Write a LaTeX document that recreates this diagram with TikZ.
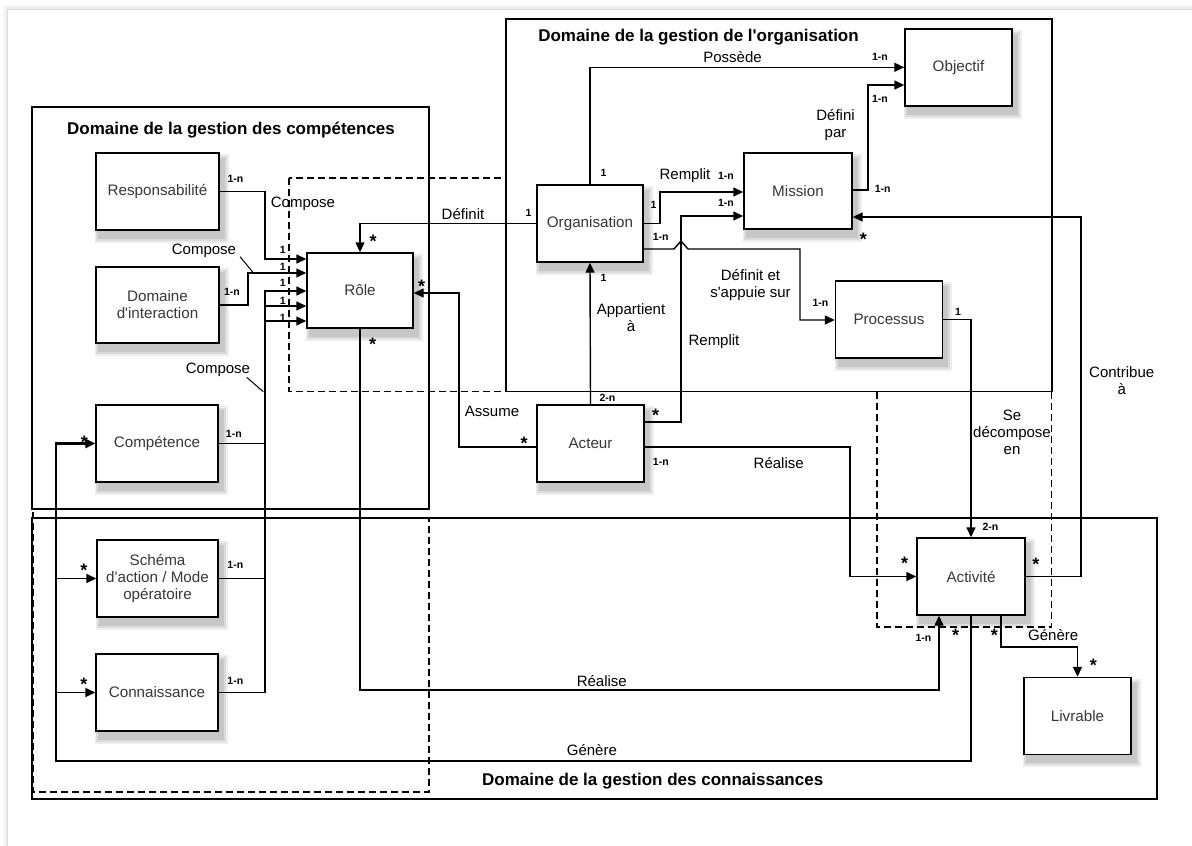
\documentclass[tikz,border=0pt]{standalone}
\usepackage{fontspec}
\setmainfont{Liberation Sans}[Ligatures=TeXOff]
\usetikzlibrary{arrows.meta, backgrounds}

\begin{document}
\begin{tikzpicture}[x=1pt, y=-1pt, line width=1.4pt,
        main/.style = {draw, line width=1.4pt, fill=white, text=black!78, align=center,
            font=\fontsize{15.2}{17}\selectfont, minimum width=107pt, minimum height=77pt, inner sep=2pt},
        rel/.style = {-{Triangle[length=10pt, width=9pt]}},
        lbl/.style = {font=\fontsize{15}{17}\selectfont, align=center, inner sep=0pt},
        card/.style = {font=\bfseries\fontsize{10.5}{12}\selectfont, inner sep=0pt},
        star/.style = {font=\bfseries\fontsize{18}{18}\selectfont, inner sep=0pt, yshift=-4pt},
        title/.style = {font=\bfseries\fontsize{17}{18}\selectfont, inner sep=0pt},
        zone/.style = {dash pattern=on 7pt off 4pt}]
        \useasboundingbox (0,0) rectangle (1192,846);
        \draw[black!6, line width=3pt] (5.5,846) -- (5.5,7.5) -- (1192,7.5);
        \draw[black!14, line width=1pt] (7.5,846) -- (7.5,9.5) -- (1192,9.5);

        % domaines
        \draw (32,107) rectangle (429,509);
        \draw (506,19) rectangle (1052,391.5);
        \draw (32,518) rectangle (1157,799);
        \draw[zone] (289,178) rectangle (506,391.5);
        \draw[zone] (877,391.5) rectangle (1051.5,627);
        \draw[zone] (33,512) -- (33,792) -- (429,792) -- (429,518);
        \node[title] (tcomp) at (231,130) {Domaine de la gestion des compétences};
        \node[title] (torga) at (698.5,37) {Domaine de la gestion de l'organisation};
        \node[title] (tconn) at (652.7,781) {Domaine de la gestion des connaissances};

        % classes
        \node[main, minimum width=123pt] (resp) at (157.5,191.5) {Responsabilité};
        \node[main, minimum width=123pt, minimum height=76pt] (inter) at (157.5,305) {Domaine\\d'interaction};
        \node[main, minimum width=122pt] (comp) at (157,443.5) {Compétence};
        \node[main, minimum width=121pt] (schema) at (157.5,578.5) {Schéma\\d'action / Mode\\opératoire};
        \node[main, minimum width=122pt] (conn) at (157,692.5) {Connaissance};
        \node[main, minimum width=106pt, minimum height=75pt] (role) at (360,290.5) {Rôle};
        \node[main, minimum width=106pt] (orga) at (590,223.5) {Organisation};
        \node[main, minimum width=108pt, minimum height=76pt] (mission) at (798,191) {Mission};
        \node[main] (objectif) at (958.5,67.3) {Objectif};
        \node[main] (processus) at (889,319.5) {Processus};
        \node[main] (acteur) at (590.5,443.5) {Acteur};
        \node[main, minimum width=108pt] (activite) at (971,576.5) {Activité};
        \node[main] (livrable) at (1077.5,716) {Livrable};

        % ombres
        \begin{scope}[on background layer]
            \foreach \b in {resp, inter, comp, schema, conn, role, orga, mission, objectif, processus, acteur, activite, livrable} {
                \fill[black!7] ([shift={(0pt,-12pt)}]\b.south west) rectangle ([shift={(9pt,-2pt)}]\b.north east);
                \fill[black!14] ([shift={(1pt,-10pt)}]\b.south west) rectangle ([shift={(7pt,-4pt)}]\b.north east);
                \fill[black!22] ([shift={(3pt,-8pt)}]\b.south west) rectangle ([shift={(5pt,-6pt)}]\b.north east);
            }
        \end{scope}

        % relations
        \draw[rel] (resp.east) -| (265,259) -- (role.west |- 0,259);
        \draw[rel] (inter.east) -| (248,273) -- (role.west |- 0,273);
        \draw[rel] (comp.east) -| (265,291) -- (role.west |- 0,291);
        \draw[rel] (schema.east) -| (265,306) -- (role.west |- 0,306);
        \draw[rel] (conn.east) -| (265,321) -- (role.west |- 0,321);
        \draw[rel] (orga.west) -| (role.north);
        \draw[rel] (role.south) |- (939,690) -- (939,0 |- activite.south);
        \draw[rel] (acteur.west |- 0,447) -| (459,293) -- (role.east |- 0,293);
        \draw[rel] (acteur.north) -- (orga.south);
        \draw[rel] (acteur.east |- 0,422) -| (681,216) -- (mission.west |- 0,216);
        \draw[rel] (orga.east) -| (660,192) -- (mission.west |- 0,192);
        \draw[rel] (orga.east |- 0,249) -- (674,249) -- (681,241) -- (688,249) -| (800,320) -- (processus.west |- 0,320);
        \draw[rel] (orga.north) |- (objectif.west);
        \draw[rel] (mission.east |- 0,190) -| (868,85) -- (objectif.west |- 0,85);
        \draw[rel] (activite.east) -| (1081,217) -- (mission.east |- 0,217);
        \draw[rel] (processus.east) -| (activite.north);
        \draw[rel] (acteur.east |- 0,447) -| (850,576.5) -- (activite.west);
        \draw[rel] (activite.south -| 1001,0) |- (1077.5,647) -- (livrable.north);
        \draw[rel, line width=2.6pt] (activite.south) |- (56,761) |- (comp.west);
        \draw[rel] (56,578.5) -- (schema.west);
        \draw[rel] (56,692.5) -- (conn.west);

        % libelles
        \node[lbl] (compose1) at (303,204) {Compose};
        \node[lbl] (compose2) at (204,250.7) {Compose};
        \node[lbl] (compose3) at (218,370) {Compose};
        \draw[line width=1pt] (240,256.7) -- (253.3,272.7);
        \draw[line width=1pt] (246.7,377.3) -- (263.3,391.7);
        \node[lbl] (definit) at (463,214) {Définit};
        \node[lbl] (realise1) at (601.8,681) {Réalise};
        \node[lbl] (assume) at (492,411.7) {Assume};
        \node[lbl] (appartient) at (631,318) {Appartient\\à};
        \node[lbl] (remplit1) at (714,341.7) {Remplit};
        \node[lbl] (remplit2) at (685,175.7) {Remplit};
        \node[lbl] (appuie) at (750.5,285) {Définit et\\s'appuie sur};
        \node[lbl] (possede) at (732.5,56.7) {Possède};
        \node[lbl] (defini) at (835.5,125) {Défini\\par};
        \node[lbl] (contribue) at (1121.7,381) {Contribue\\à};
        \node[lbl] (decompose) at (1012,432.7) {Se\\décompose\\en};
        \node[lbl] (realise2) at (778.7,462.7) {Réalise};
        \node[lbl] (genere1) at (1053.2,635) {Génère};
        \node[lbl] (genere2) at (591.9,750) {Génère};

        % cardinalites
        \node[card] (c1) at (235.5,179.3) {1-n};
        \node[card] (c2) at (282.7,250) {1};
        \node[card] (c3) at (282.7,266.7) {1};
        \node[card] (c4) at (282.7,283.3) {1};
        \node[card] (c5) at (282.7,300.7) {1};
        \node[card] (c6) at (282.7,317.7) {1};
        \node[card] (c7) at (232,291.7) {1-n};
        \node[card] (c8) at (233.8,434.3) {1-n};
        \node[card] (c9) at (235.3,565) {1-n};
        \node[card] (c10) at (235.3,681) {1-n};
        \node[card] (c11) at (528.6,212.7) {1};
        \node[card] (c12) at (603.6,173.3) {1};
        \node[card] (c13) at (653.6,205) {1};
        \node[card] (c14) at (660.7,236.7) {1-n};
        \node[card] (c15) at (603.6,278) {1};
        \node[card] (c16) at (726,175.7) {1-n};
        \node[card] (c17) at (726,203.3) {1-n};
        \node[card] (c18) at (882.7,189) {1-n};
        \node[card] (c19) at (880,56.7) {1-n};
        \node[card] (c20) at (880,99) {1-n};
        \node[card] (c21) at (820.5,303.3) {1-n};
        \node[card] (c22) at (958,311.7) {1};
        \node[card] (c23) at (607.5,398) {2-n};
        \node[card] (c24) at (660.8,461.7) {1-n};
        \node[card] (c25) at (990.5,526.7) {2-n};
        \node[card] (c26) at (923.5,637.7) {1-n};

        \node[star] (s1) at (84.3,438.3) {*};
        \node[star] (s2) at (84,566.7) {*};
        \node[star] (s3) at (84,680) {*};
        \node[star] (s4) at (373,237) {*};
        \node[star] (s5) at (421.7,282.7) {*};
        \node[star] (s6) at (372.7,340) {*};
        \node[star] (s7) at (524,439) {*};
        \node[star] (s8) at (655.6,411.7) {*};
        \node[star] (s9) at (863.3,235) {*};
        \node[star] (s10) at (904.6,559.3) {*};
        \node[star] (s11) at (1035.8,560) {*};
        \node[star] (s12) at (955.6,631.7) {*};
        \node[star] (s13) at (994.3,631.7) {*};
        \node[star] (s14) at (1093.3,661.7) {*};
\end{tikzpicture}
\end{document}
